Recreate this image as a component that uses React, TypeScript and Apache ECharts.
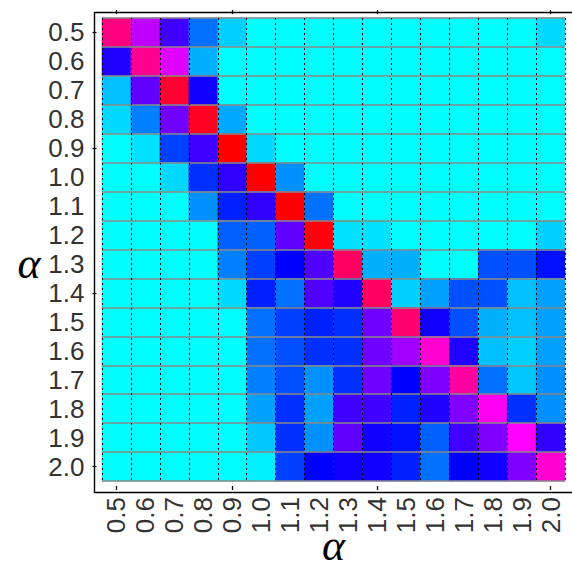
import React, { useEffect, useRef } from "react";
import * as echarts from "echarts";

const xLabels = ["0.5","0.6","0.7","0.8","0.9","1.0","1.1","1.2","1.3","1.4","1.5","1.6","1.7","1.8","1.9","2.0"];
const yLabels = ["0.5","0.6","0.7","0.8","0.9","1.0","1.1","1.2","1.3","1.4","1.5","1.6","1.7","1.8","1.9","2.0"];

// rows from alpha = 0.5 (top) to 2.0 (bottom), columns alpha = 0.5 .. 2.0
const row05 = [0.833, 0.584, 0.417, 0.187, 0.061, 0, 0, 0, 0, 0, 0, 0, 0, 0, 0, 0.05];
const row06 = [0.375, 0.812, 0.626, 0.103, 0, 0, 0, 0, 0, 0, 0, 0, 0, 0, 0, 0];
const row07 = [0.082, 0.459, 0.937, 0.354, 0, 0, 0, 0, 0, 0, 0, 0, 0, 0, 0, 0];
const row08 = [0.05, 0.166, 0.48, 0.958, 0.114, 0, 0, 0, 0, 0, 0, 0, 0, 0, 0, 0];
const row09 = [0, 0.04, 0.25, 0.417, 1, 0.05, 0, 0, 0, 0, 0, 0, 0, 0, 0, 0];
const row10 = [0, 0, 0.05, 0.27, 0.396, 1, 0.145, 0, 0, 0, 0, 0, 0, 0, 0, 0];
const row11 = [0, 0, 0, 0.145, 0.29, 0.396, 1, 0.187, 0, 0, 0, 0, 0, 0, 0, 0];
const row12 = [0, 0, 0, 0, 0.208, 0.208, 0.459, 0.98, 0.04, 0.04, 0, 0, 0, 0, 0, 0.061];
const row13 = [0, 0, 0, 0, 0.166, 0.25, 0.333, 0.438, 0.875, 0.103, 0.103, 0, 0, 0.229, 0.229, 0.313];
const row14 = [0, 0, 0, 0, 0.05, 0.29, 0.187, 0.438, 0.375, 0.875, 0.061, 0.124, 0.229, 0.229, 0.082, 0.124];
const row15 = [0, 0, 0, 0, 0, 0.187, 0.25, 0.29, 0.27, 0.48, 0.854, 0.354, 0.229, 0.103, 0.082, 0.124];
const row16 = [0, 0, 0, 0, 0, 0.187, 0.229, 0.27, 0.27, 0.48, 0.543, 0.728, 0.375, 0.082, 0.061, 0.124];
const row17 = [0, 0, 0, 0, 0, 0.166, 0.229, 0.145, 0.27, 0.48, 0.333, 0.5, 0.791, 0.187, 0.072, 0.145];
const row18 = [0, 0, 0, 0, 0, 0.124, 0.27, 0.124, 0.417, 0.417, 0.29, 0.375, 0.5, 0.686, 0.27, 0.145];
const row19 = [0, 0, 0, 0, 0, 0.072, 0.27, 0.145, 0.459, 0.354, 0.313, 0.208, 0.417, 0.5, 0.667, 0.396];
const row20 = [0, 0, 0, 0, 0, 0.02, 0.25, 0.333, 0.354, 0.354, 0.29, 0.187, 0.333, 0.354, 0.5, 0.728];

const rows = [row05, row06, row07, row08, row09, row10, row11, row12, row13, row14, row15, row16, row17, row18, row19, row20];
const tickIdx = [0, 4, 9, 15];

export default function App() {
  const ref = useRef<HTMLDivElement>(null);
  useEffect(() => {
    document.body.style.margin = "0";
    if (!ref.current) return;
    const chart = echarts.init(ref.current, null, { renderer: "svg" });
    const data: number[][] = [];
    rows.forEach((r, yi) => r.forEach((v, xi) => data.push([xi, yi, v])));
    const tickFn = (i: number) => tickIdx.indexOf(i) >= 0;
    const labelFont = { fontSize: 26, fontFamily: "Liberation Sans", color: "#333" };
    const nameFont = { fontSize: 44, lineHeight: 28, fontFamily: "Liberation Serif", fontStyle: "italic", color: "#000" };
    chart.setOption({
      animation: false,
      grid: { left: 102, top: 18, right: 7, bottom: 82, containLabel: false, outerBoundsMode: "none" },
      visualMap: {
        type: "continuous", min: 0, max: 1, show: false, dimension: 2,
        inRange: { color: ["#00ffff", "#0000ff", "#ff00ff", "#ff0000"] },
      },
      xAxis: [
        {
          type: "category", data: xLabels, position: "bottom", offset: 9, z: 10,
          axisLine: { show: false },
          axisTick: { show: true, inside: true, length: 4, alignWithLabel: true, interval: tickFn, lineStyle: { color: "#000", width: 1.3 } },
          axisLabel: { interval: 0, rotate: 90, margin: 7, ...labelFont },
          splitLine: { show: true, interval: 0, lineStyle: { color: "#000", type: [2, 3], width: 1 } },
          name: "α", nameLocation: "middle", nameGap: 41, nameMoveOverlap: false, nameTextStyle: nameFont,
        },
        {
          type: "category", data: xLabels, position: "top", offset: 8, z: 10,
          axisLine: { show: false },
          axisTick: { show: true, inside: true, length: 4, alignWithLabel: true, interval: tickFn, lineStyle: { color: "#000", width: 1.3 } },
          axisLabel: { show: false },
          splitLine: { show: false },
        },
      ],
      yAxis: [
        {
          type: "category", data: yLabels, inverse: true, position: "left", offset: 9.5, z: 10,
          axisLine: { show: false },
          axisTick: { show: true, inside: true, length: 4, alignWithLabel: true, interval: tickFn, lineStyle: { color: "#000", width: 1.3 } },
          axisLabel: { interval: 0, margin: 8, ...labelFont },
          splitLine: { show: true, interval: 0, lineStyle: { color: "#888", width: 1.5 } },
          name: "α", nameLocation: "middle", nameRotate: 0, nameGap: 52, nameMoveOverlap: false,
          nameTextStyle: { ...nameFont, verticalAlign: "top" },
        },
      ],
      graphic: [
        {
          type: "rect", left: 92, top: 10, z: 100, silent: true,
          shape: { x: 0, y: 0, width: 500, height: 480 },
          style: { fill: "none", stroke: "#000", lineWidth: 1.4 },
        },
      ],
      series: [
        {
          type: "heatmap", data, xAxisIndex: 0, yAxisIndex: 0,
          itemStyle: { borderWidth: 0 },
          emphasis: { disabled: true },
        },
      ],
    });
    return () => chart.dispose();
  }, []);
  return <div ref={ref} style={{ width: 572, height: 563 }} />;
}
